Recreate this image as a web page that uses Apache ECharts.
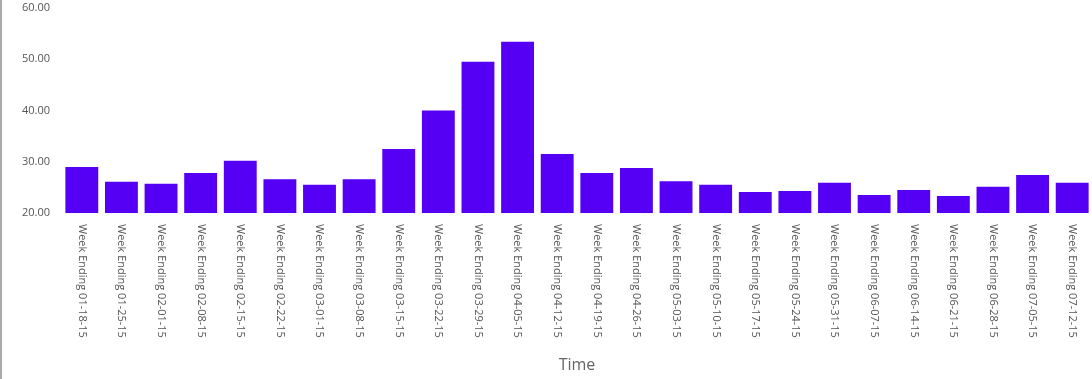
<!DOCTYPE html>
<html>
<head>
<meta charset="utf-8">
<script src="https://cdn.jsdelivr.net/npm/echarts@6/dist/echarts.min.js"></script>
<style>
html,body{margin:0;padding:0;background:#fff;}
#chart{width:1090px;height:379px;border-left:2px solid #aaaaaa;}
</style>
</head>
<body>
<div id="chart"></div>
<script>
const categories = [
  "Week Ending 01-18-15","Week Ending 01-25-15","Week Ending 02-01-15","Week Ending 02-08-15",
  "Week Ending 02-15-15","Week Ending 02-22-15","Week Ending 03-01-15","Week Ending 03-08-15",
  "Week Ending 03-15-15","Week Ending 03-22-15","Week Ending 03-29-15","Week Ending 04-05-15",
  "Week Ending 04-12-15","Week Ending 04-19-15","Week Ending 04-26-15","Week Ending 05-03-15",
  "Week Ending 05-10-15","Week Ending 05-17-15","Week Ending 05-24-15","Week Ending 05-31-15",
  "Week Ending 06-07-15","Week Ending 06-14-15","Week Ending 06-21-15","Week Ending 06-28-15",
  "Week Ending 07-05-15","Week Ending 07-12-15"
];
const values = [
  29.0, 26.1, 25.7, 27.8, 30.2, 26.6, 25.5, 26.6, 32.5, 40.0, 49.5, 53.4,
  31.5, 27.8, 28.8, 26.2, 25.5, 24.1, 24.3, 25.9, 23.5, 24.5, 23.3, 25.1,
  27.4, 25.9
];
const yMin = 20, yMax = 60, yStep = 10;

const chart = echarts.init(document.getElementById('chart'), null, {renderer: 'canvas'});
chart.setOption({
  animation: false,
  textStyle: {fontFamily: 'Open Sans'},
  grid: {left: 60, right: 0, top: 8, bottom: 166, containLabel: false},
  xAxis: {
    type: 'category',
    data: categories,
    axisLine: {show: false},
    axisTick: {show: false},
    axisLabel: {rotate: -90, margin: 11, fontSize: 11, color: '#555', fontFamily: 'Open Sans', interval: 0},
    name: 'Time',
    nameLocation: 'middle',
    nameGap: 144,
    nameTextStyle: {fontSize: 16, color: '#666', fontFamily: 'Open Sans'}
  },
  yAxis: {
    type: 'value',
    min: yMin, max: yMax, interval: yStep,
    axisLine: {show: false},
    axisTick: {show: false},
    splitLine: {show: false},
    axisLabel: {margin: 12, fontSize: 11, color: '#555', fontFamily: 'Open Sans',
      formatter: v => v.toFixed(2)}
  },
  series: [{
    type: 'bar',
    data: values,
    barCategoryGap: '17%',
    itemStyle: {color: '#5500f5'}
  }]
});
</script>
</body>
</html>
